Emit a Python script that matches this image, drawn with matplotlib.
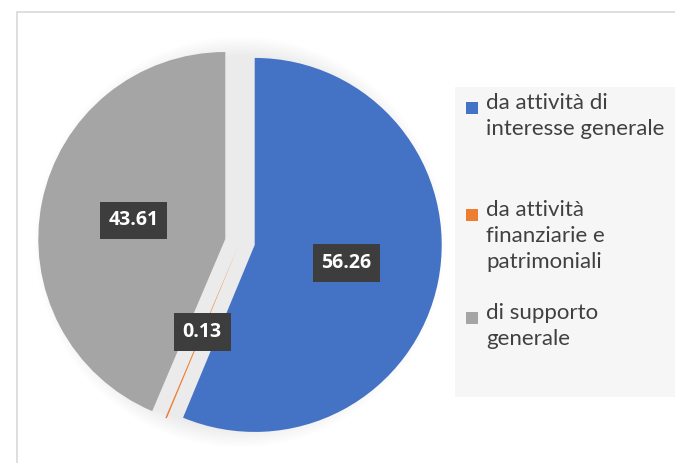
import matplotlib.pyplot as plt
from matplotlib.patches import Rectangle, Circle

# data
categories = ["da attività di\ninteresse generale",
              "da attività\nfinanziarie e\npatrimoniali",
              "di supporto\ngenerale"]
values = [56.26, 0.13, 43.61]
colors = ["#4472C4", "#ED7D31", "#A5A5A5"]

W, H = 675, 463
fig = plt.figure(figsize=(W / 100, H / 100), dpi=100)
ax = fig.add_axes([0, 0, 1, 1])
ax.set_xlim(0, W)
ax.set_ylim(0, H)
ax.set_aspect("equal")
ax.axis("off")

# chart frame
fig.patches.append(Rectangle((17 / W, -0.1), 1.2, 1 - 12 / H + 0.1, transform=fig.transFigure,
                             facecolor="none", edgecolor="#d9d9d9", lw=1.2, zorder=0))

# legend background
fig.patches.append(Rectangle((455 / W, 1 - 397 / H), 1.0, 310 / H, transform=fig.transFigure,
                             facecolor="#f6f6f6", edgecolor="none", zorder=0.5))

cx, cy, R = 240, H - 242, 187

# soft shadow behind the slices
for i in range(10):
    ax.add_patch(Circle((cx, cy), R + 18 - 2 * i, facecolor="#000000", alpha=0.008,
                        edgecolor="none", zorder=0))

wedges, texts, autotexts = ax.pie(
    values, colors=colors, startangle=90, counterclock=False,
    center=(cx, cy), radius=R, explode=[15, 4, 15],
    wedgeprops=dict(linewidth=0),
    autopct="%.2f", pctdistance=0.5,
    textprops=dict(color="white", fontsize=14, fontweight="bold", family="Open Sans",
                   bbox=dict(boxstyle="square,pad=0.45", facecolor="#3d3d3d", edgecolor="none")))
ax.set_xlim(0, W)
ax.set_ylim(0, H)

# legend entries
legend_y = [108, 215, 318]
for cat, col, y in zip(categories, colors, legend_y):
    fig.patches.append(Rectangle((466 / W, 1 - (y + 6) / H), 12 / W, 12 / H,
                                 transform=fig.transFigure, facecolor=col, edgecolor="none", zorder=2))
    fig.text(486 / W, 1 - (y - 15) / H, cat, ha="left", va="top", fontsize=16,
             family="Lato", color="#404040", linespacing=1.38)

fig.savefig("out.png", dpi=100)
